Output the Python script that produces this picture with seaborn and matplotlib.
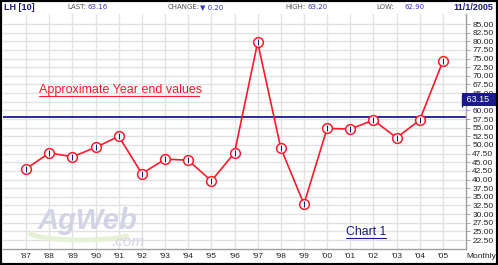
import matplotlib
matplotlib.use("Agg")
import matplotlib.pyplot as plt
import matplotlib.transforms as mtransforms
from matplotlib.patches import Rectangle, Arc
import seaborn as sns
import pandas as pd
import numpy as np

# ---- data ----
years = ["'87", "'88", "'89", "'90", "'91", "'92", "'93", "'94", "'95", "'96",
         "'97", "'98", "'99", "'00", "'01", "'02", "'03", "'04", "'05"]
values = [43.1, 47.7, 46.6, 49.3, 52.5, 41.7, 45.9, 45.6, 39.6, 47.7,
          79.7, 49.1, 32.9, 54.8, 54.6, 57.2, 52.1, 57.2, 74.2]
ref_level = 58.0
last_price = 63.15
last_bar = [61.0, 64.45]
y_ticks = [22.5 + 2.5 * k for k in range(26)]
header_labels = ["LAST:", "CHANGE:", "HIGH:", "LOW:"]
header_values = ["63.16", "\u25BC 0.20", "63.20", "62.90"]
symbol = "LH [10]"
date_str = "11/1/2005"

df = pd.DataFrame({"idx": np.arange(len(years)), "value": values})

sns.set_style("white")
plt.rcParams["font.family"] = ["Liberation Sans", "DejaVu Sans"]

W, H = 498, 265
fig = plt.figure(figsize=(W / 100, H / 100), dpi=100)
ax = fig.add_axes([3 / W, 1 - 249 / H, 463 / W, 235 / H])

navy = "#1a1a8c"
red = "#ff1a2a"
grid_c = "#e2e2e2"

# grid
for i in range(len(years)):
    ax.axvline(i, color=grid_c, lw=1, zorder=0)
for t in y_ticks:
    ax.axhline(t, color=grid_c, lw=1, zorder=0)

# watermark
ax.add_patch(Arc((2.4, 25.0), 4.6, 5.0, theta1=190, theta2=330,
                 color="#e6f2d6", lw=3.5, zorder=1))
ax.text(2.65, 27.9, "AgWeb", color="#d2d4e6", fontsize=21, fontweight="bold",
        fontstyle="italic", ha="center", va="center", zorder=1)
ax.text(4.4, 21.9, ".com", color="#d2d4e6", fontsize=11, fontstyle="italic",
        ha="center", va="center", zorder=1)

# reference line
ax.axhline(ref_level, color=navy, lw=1.3, zorder=2)

# series
sns.lineplot(data=df, x="idx", y="value", ax=ax, color=red, lw=1.2, zorder=3,
             marker="o", markersize=7, markerfacecolor="white",
             markeredgecolor=red, markeredgewidth=1.1)
ax.plot(df["idx"], df["value"], ls="none", marker="|", color=navy,
        markersize=4, markeredgewidth=0.8, zorder=4)

# current month bar
ax.vlines(18.82, last_bar[0], last_bar[1], color=navy, lw=1, zorder=3)

ax.set_xlim(-1, 19)
ax.set_ylim(19.9, 87.9)
ax.set_xlabel("")
ax.set_ylabel("")

ax.set_xticks(range(len(years)))
ax.set_xticklabels(years, fontsize=6, color="#222222")
ax.yaxis.tick_right()
ax.set_yticks(y_ticks)
ylabels = [f"{t:.2f}" for t in y_ticks]
# the label hidden behind the last-price box in the original
ylabels = ["" if abs(t - 62.5) < 1e-9 else s for t, s in zip(y_ticks, ylabels)]
ax.set_yticklabels(ylabels, fontsize=6, color="#222222")
ax.tick_params(axis="x", length=0, pad=3)
ax.tick_params(axis="y", length=3, width=0.6, color="#999999", pad=1.5, right=True)

for s in ["top", "left"]:
    ax.spines[s].set_visible(False)
for s in ["right", "bottom"]:
    ax.spines[s].set_color("#a0a0a0")
    ax.spines[s].set_linewidth(1)

# last price box
trans = mtransforms.blended_transform_factory(ax.transAxes, ax.transData)
ax.text(0.995, last_price, f" {last_price:.2f}   ", transform=trans,
        ha="left", va="center", fontsize=6.5, color="white", zorder=10,
        clip_on=False,
        bbox=dict(boxstyle="square,pad=0.2", fc=navy, ec="none"))

fig.text(481 / W, 1 - 257 / H, "Monthly", ha="center", va="center",
         fontsize=6, color="#222222")

# annotations
ax.text(4.06, 65.9, "Approximate Year end values", color=red, fontsize=9,
        ha="center", va="center", zorder=5)
ax.plot([(39 - 26) / 23.17, (199 - 26) / 23.17], [64.2, 64.2], color=red,
        lw=0.8, zorder=5)
ax.text(14.67, 24.8, "Chart 1", color=navy, fontsize=8.8, ha="center",
        va="center", zorder=5)
ax.plot([(346 - 26) / 23.17, (386 - 26) / 23.17], [23.1, 23.1], color=navy,
        lw=0.8, zorder=5)

# header
hy = 1 - 7 / H
fig.text(4 / W, hy, symbol, color=navy, fontsize=6.5,
         fontweight="bold", ha="left", va="center")
fig.text(493 / W, hy, date_str, color=navy, fontsize=6.5,
         fontweight="bold", ha="right", va="center")
label_x = [67, 168, 285, 376]
value_x = [87, 200, 307, 404]
for lx, vx, lab, val in zip(label_x, value_x, header_labels, header_values):
    fig.text(lx / W, hy, lab, color="#555555", fontsize=5,
             ha="left", va="center", family=["DejaVu Sans"])
    fig.text(vx / W, hy, val, color="#3333cc", fontsize=5, ha="left",
             va="center", family=["DejaVu Sans"])

# outer border
fig.patches.append(Rectangle((0, 0), 1, 1, transform=fig.transFigure,
                             fill=False, ec="black", lw=3, zorder=20))

fig.savefig("out.png", dpi=100)
